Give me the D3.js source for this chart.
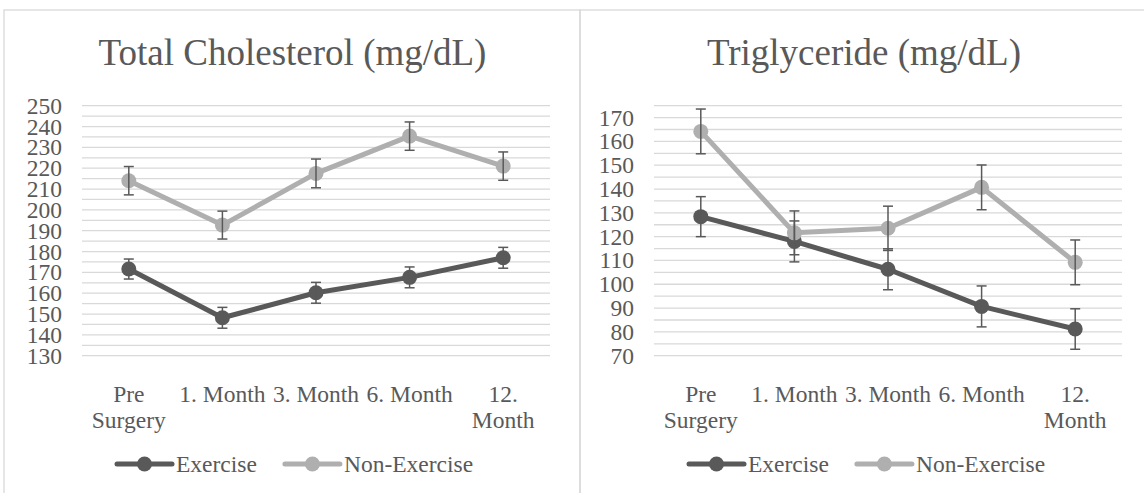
<!DOCTYPE html>
<html><head><meta charset="utf-8">
<script src="https://cdn.jsdelivr.net/npm/d3@7"></script>
<style>body{margin:0;background:#fff}svg{display:block}</style>
</head><body>
<script>
// ---- data ----
const categories = ["Pre Surgery", "1. Month", "3. Month", "6. Month", "12. Month"];
const seriesNames = ["Exercise", "Non-Exercise"];

const cholTitle = "Total Cholesterol (mg/dL)";
const cholExercise = [171.6, 148.2, 160.2, 167.6, 177.0];
const cholExerciseErr = [4.8, 5.0, 5.0, 5.0, 5.0];
const cholNonExercise = [214.0, 192.7, 217.5, 235.4, 221.0];
const cholNonExerciseErr = [6.8, 6.7, 6.9, 6.8, 6.8];
const cholTicks = [130, 140, 150, 160, 170, 180, 190, 200, 210, 220, 230, 240, 250];
const cholDomain = [130, 250];

const trigTitle = "Triglyceride (mg/dL)";
const trigExercise = [128.4, 118.0, 106.3, 90.7, 81.2];
const trigExerciseErr = [8.4, 8.6, 8.6, 8.6, 8.5];
const trigNonExercise = [164.2, 121.6, 123.5, 140.7, 109.2];
const trigNonExerciseErr = [9.4, 9.2, 9.3, 9.4, 9.4];
const trigTicks = [70, 80, 90, 100, 110, 120, 130, 140, 150, 160, 170];
const trigDomain = [70, 175];

const colors = ["#595959", "#afafaf"];
const W = 1144, H = 493;
const FONT = "'Liberation Serif','Times New Roman',serif";
const TEXT = "#595959";

const svg = d3.select("body").append("svg").attr("width", W).attr("height", H);

// panel frames
svg.append("rect").attr("x", 4).attr("y", 10).attr("width", 576).attr("height", 500)
  .attr("fill", "none").attr("stroke", "#d9d9d9").attr("stroke-width", 1.3);
svg.append("rect").attr("x", 580).attr("y", 10).attr("width", 570).attr("height", 500)
  .attr("fill", "none").attr("stroke", "#d9d9d9").attr("stroke-width", 1.3);

function drawChart(cfg) {
  const g = svg.append("g");
  const x = d3.scaleBand().domain(categories).range([cfg.x0, cfg.x1]).padding(0);
  const y = d3.scaleLinear().domain(cfg.domain).range([355.7, 105.7]);
  const cx = d => x(d) + x.bandwidth() / 2;

  // title
  g.append("text").attr("x", cfg.titleX).attr("y", 65).attr("text-anchor", "middle")
    .attr("font-family", FONT).attr("font-size", 37).attr("fill", TEXT).text(cfg.title);

  // gridlines every 5 units
  const grid = d3.range(cfg.domain[0], cfg.domain[1] + 0.001, 5);
  g.append("g").selectAll("line").data(grid).join("line")
    .attr("x1", cfg.x0).attr("x2", cfg.x1)
    .attr("y1", d => y(d)).attr("y2", d => y(d))
    .attr("stroke", "#d9d9d9").attr("stroke-width", 1.3);

  // y axis labels
  const yAxis = d3.axisLeft(y).tickValues(cfg.ticks).tickSize(0).tickPadding(20);
  const ya = g.append("g").attr("transform", `translate(${cfg.x0},0)`).call(yAxis);
  ya.select(".domain").remove();
  ya.selectAll("text").attr("font-family", FONT).attr("font-size", 23.5).attr("fill", TEXT);

  // x axis labels with wrapping
  const xa = g.append("g");
  categories.forEach(c => {
    const t = xa.append("text").attr("x", cx(c)).attr("y", 402).attr("text-anchor", "middle")
      .attr("font-family", FONT).attr("font-size", 23.5).attr("fill", TEXT).text(c);
    if (t.node().getComputedTextLength() > x.bandwidth()) {
      const words = c.split(" ");
      t.text(null);
      words.forEach((w, i) => {
        t.append("tspan").attr("x", cx(c)).attr("y", 402 + i * 25.5).text(w);
      });
    }
  });

  const line = d3.line().x((d, i) => cx(categories[i])).y(d => y(d));
  cfg.series.forEach((s, si) => {
    g.append("path").datum(s.values).attr("d", line).attr("fill", "none")
      .attr("stroke", colors[si]).attr("stroke-width", 5).attr("stroke-linejoin", "round");
    g.append("g").selectAll("circle").data(s.values).join("circle")
      .attr("cx", (d, i) => cx(categories[i])).attr("cy", d => y(d)).attr("r", 7.5)
      .attr("fill", colors[si]);
  });
  // error bars
  cfg.series.forEach((s, si) => {
    const eb = g.append("g").attr("stroke", "#595959").attr("stroke-width", 1.5);
    s.values.forEach((v, i) => {
      const X = cx(categories[i]), e = s.err[i];
      eb.append("line").attr("x1", X).attr("x2", X).attr("y1", y(v - e)).attr("y2", y(v + e));
      eb.append("line").attr("x1", X - 5).attr("x2", X + 5).attr("y1", y(v + e)).attr("y2", y(v + e));
      eb.append("line").attr("x1", X - 5).attr("x2", X + 5).attr("y1", y(v - e)).attr("y2", y(v - e));
    });
  });

  // legend
  const lg = g.append("g");
  let lx = cfg.legendX;
  seriesNames.forEach((n, si) => {
    lg.append("line").attr("x1", lx).attr("x2", lx + 55).attr("y1", 464).attr("y2", 464)
      .attr("stroke", colors[si]).attr("stroke-width", 5).attr("stroke-linecap", "round");
    lg.append("circle").attr("cx", lx + 27.5).attr("cy", 464).attr("r", 7.5).attr("fill", colors[si]);
    const t = lg.append("text").attr("x", lx + 59).attr("y", 472).attr("font-family", FONT)
      .attr("font-size", 23.5).attr("fill", TEXT).text(n);
    lx = lx + 59 + t.node().getComputedTextLength() + 28;
  });
}

drawChart({
  title: cholTitle, titleX: 292.5, x0: 82, x1: 550, domain: cholDomain, ticks: cholTicks, legendX: 117,
  series: [{values: cholExercise, err: cholExerciseErr}, {values: cholNonExercise, err: cholNonExerciseErr}]
});
drawChart({
  title: trigTitle, titleX: 864, x0: 654, x1: 1122, domain: trigDomain, ticks: trigTicks, legendX: 689,
  series: [{values: trigExercise, err: trigExerciseErr}, {values: trigNonExercise, err: trigNonExerciseErr}]
});
</script>
</body></html>
